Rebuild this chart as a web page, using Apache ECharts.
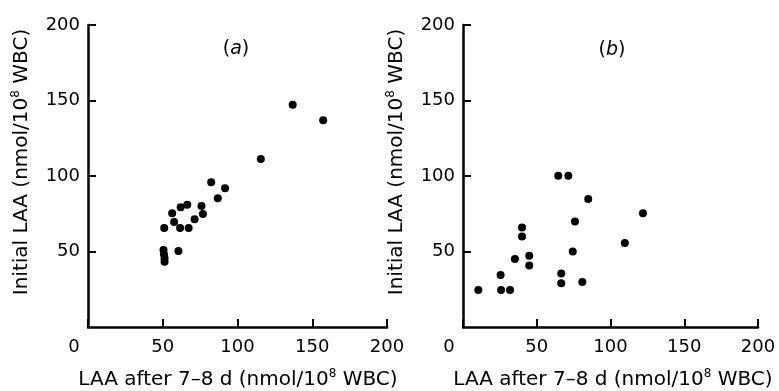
<!DOCTYPE html>
<html>
<head>
<meta charset="utf-8">
<script src="https://cdn.jsdelivr.net/npm/echarts@6/dist/echarts.min.js"></script>
<style>
html,body{margin:0;padding:0;background:#fff;}
#c{width:779px;height:391px;}
</style>
</head>
<body>
<div id="c"></div>
<script>
// ---- data ----
const axisTicks = [0, 50, 100, 150, 200];
const panelLabels = ['a', 'b'];
const xTitle = ['LAA after 7\u20138 d (nmol/10', '8', ' WBC)'];
const yTitle = ['Initial LAA (nmol/10', '8', ' WBC)'];

const aX = [51.0, 50.5, 50.8, 51.2, 51.2, 56.3, 57.6, 60.5, 61.6, 62.0, 66.4, 67.3, 71.3, 75.9, 76.9, 82.4, 86.8, 91.7, 115.6, 136.9, 157.3];
const aY = [65.6, 51.0, 48.1, 45.5, 43.2, 75.3, 69.5, 50.3, 65.6, 79.3, 81.0, 65.6, 71.3, 80.1, 74.8, 95.8, 85.2, 91.9, 111.3, 147.2, 136.9];

const bX = [10.4, 25.5, 25.8, 31.9, 35.2, 40.0, 40.0, 44.9, 44.9, 64.6, 71.4, 66.6, 66.6, 74.4, 75.9, 80.9, 84.9, 109.7, 122.0];
const bY = [24.5, 34.4, 24.5, 24.5, 45.0, 65.9, 60.0, 47.2, 40.8, 100.1, 100.1, 35.5, 28.9, 50.0, 69.9, 29.8, 84.7, 55.6, 75.4];

// ---- build ----
const FONT = 'DejaVu Sans';
const pairs = (xs, ys) => xs.map((x, i) => [x, ys[i]]);

function xAxis(idx) {
  return {
    type: 'value', gridIndex: idx, min: axisTicks[0], max: axisTicks[axisTicks.length - 1], interval: 50,
    axisLine: { show: true, onZero: false, lineStyle: { color: '#000', width: 2.5 } },
    axisTick: { show: true, inside: true, length: 8, lineStyle: { color: '#000', width: 2 } },
    splitLine: { show: false },
    axisLabel: {
      color: '#000', fontFamily: FONT, fontSize: 18, margin: 11,
      formatter: v => v === 0 ? '{z|0}' : String(v),
      rich: { z: { color: '#000', fontFamily: FONT, fontSize: 18, padding: [0, 28, 0, 0] } }
    }
  };
}
function yAxis(idx) {
  return {
    type: 'value', gridIndex: idx, min: axisTicks[0], max: axisTicks[axisTicks.length - 1], interval: 50,
    axisLine: { show: true, onZero: false, lineStyle: { color: '#000', width: 2.5 } },
    axisTick: { show: true, inside: true, length: 8, lineStyle: { color: '#000', width: 2 } },
    splitLine: { show: false },
    axisLabel: { color: '#000', fontFamily: FONT, fontSize: 18, margin: 8, showMinLabel: false }
  };
}

const rich = {
  t: { fontFamily: FONT, fontSize: 20, fill: '#000', color: '#000', lineHeight: 24 },
  s: { fontFamily: FONT, fontSize: 12, fill: '#000', color: '#000', verticalAlign: 'top', lineHeight: 24 }
};
const titleText = parts => '{t|' + parts[0] + '}{s|' + parts[1] + '}{t|' + parts[2] + '}';

function textEl(x, y, rot, text) {
  return {
    type: 'text', x: x, y: y, rotation: rot,
    style: { text: text, rich: rich, align: 'center', verticalAlign: 'middle', fill: '#000',
             font: '20px "' + FONT + '"' }
  };
}

const chart = echarts.init(document.getElementById('c'), null, { renderer: 'canvas' });
chart.setOption({
  animation: false,
  backgroundColor: '#fff',
  grid: [
    { left: 88, right: 392, top: 25, bottom: 64 },
    { left: 463, right: 21, top: 25, bottom: 64 }
  ],
  xAxis: [xAxis(0), xAxis(1)],
  yAxis: [yAxis(0), yAxis(1)],
  series: [
    { type: 'scatter', xAxisIndex: 0, yAxisIndex: 0, symbol: 'circle', symbolSize: 8,
      itemStyle: { color: '#000', opacity: 1 }, data: pairs(aX, aY) },
    { type: 'scatter', xAxisIndex: 1, yAxisIndex: 1, symbol: 'circle', symbolSize: 8,
      itemStyle: { color: '#000', opacity: 1 }, data: pairs(bX, bY) }
  ],
  graphic: [
    textEl(238, 380, 0, titleText(xTitle)),
    textEl(613, 380, 0, titleText(xTitle)),
    textEl(22, 162, Math.PI / 2, titleText(yTitle)),
    textEl(397, 162, Math.PI / 2, titleText(yTitle)),
    { type: 'text', x: 236, y: 49, style: { text: '({i|' + panelLabels[0] + '})', align: 'center', verticalAlign: 'middle',
      font: '19px "' + FONT + '"', fill: '#000',
      rich: { i: { fontFamily: FONT, fontSize: 19, fontStyle: 'italic', fill: '#000', color: '#000' } } } },
    { type: 'text', x: 612, y: 50, style: { text: '({i|' + panelLabels[1] + '})', align: 'center', verticalAlign: 'middle',
      font: '19px "' + FONT + '"', fill: '#000',
      rich: { i: { fontFamily: FONT, fontSize: 19, fontStyle: 'italic', fill: '#000', color: '#000' } } } }
  ]
});
</script>
</body>
</html>
